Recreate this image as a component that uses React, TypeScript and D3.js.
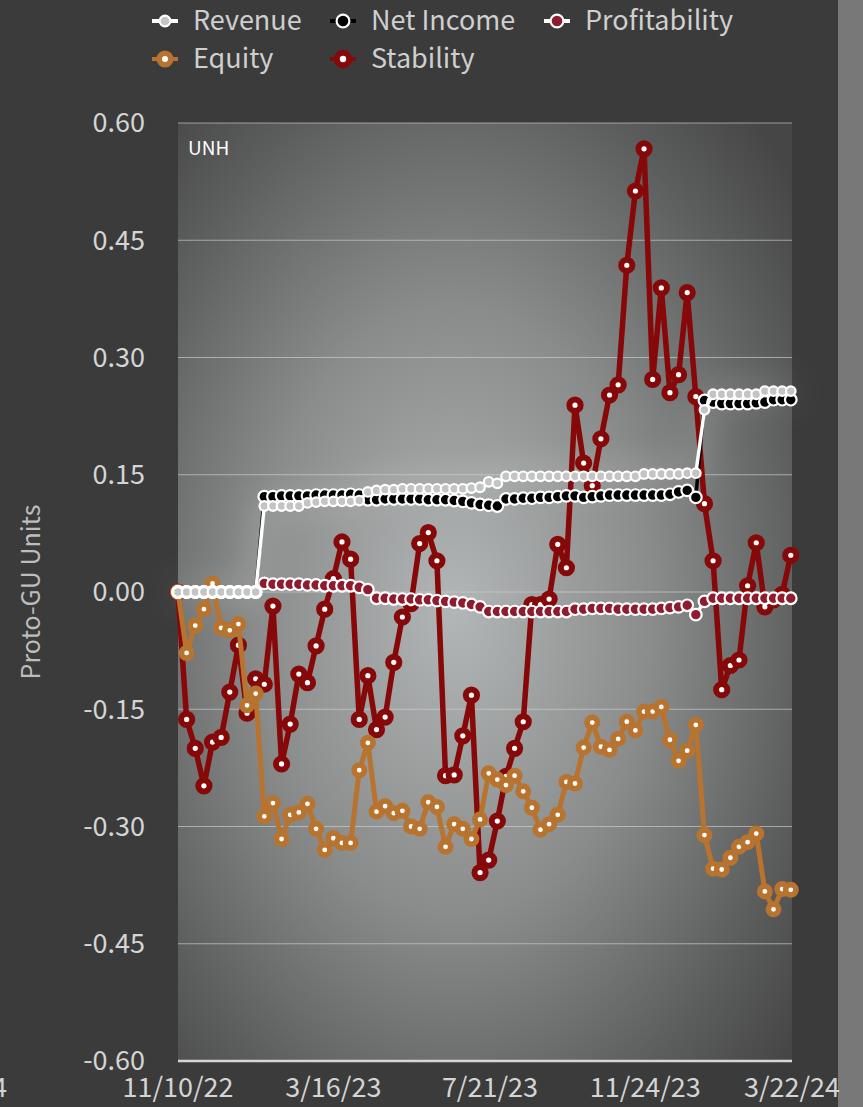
import * as d3 from "d3";

// weekly observations, 11/10/22 .. 3/21/24
const startDate = new Date(2022, 10, 10);
const endDate = new Date(2024, 2, 22);
const weekCount = 72;

const xTickDates = [
  new Date(2022, 10, 10),
  new Date(2023, 2, 16),
  new Date(2023, 6, 21),
  new Date(2023, 10, 24),
  new Date(2024, 2, 22),
];
const yTicks = [-0.6, -0.45, -0.3, -0.15, 0, 0.15, 0.3, 0.45, 0.6];

const revenue = [
  0, 0, 0, 0, 0, 0, 0, 0, 0, 0,
  0.11, 0.11, 0.11, 0.11, 0.11,
  0.114, 0.115, 0.116, 0.116, 0.116, 0.116, 0.117,
  0.128, 0.13, 0.131, 0.131, 0.132, 0.132, 0.132, 0.132, 0.132, 0.132, 0.132, 0.132, 0.133,
  0.134, 0.141, 0.139,
  0.148, 0.148, 0.148, 0.148, 0.148, 0.148, 0.148, 0.148, 0.148, 0.148, 0.148, 0.148, 0.148, 0.148, 0.148, 0.148,
  0.151, 0.151, 0.151, 0.151, 0.151, 0.152, 0.152,
  0.233,
  0.253, 0.253, 0.253, 0.253, 0.253, 0.253,
  0.257, 0.257, 0.257, 0.257,
];

const netIncome = [
  0, 0, 0, 0, 0, 0, 0, 0, 0, 0,
  0.122, 0.122, 0.123, 0.123, 0.123, 0.123, 0.124, 0.124, 0.124, 0.124, 0.125, 0.124,
  0.118, 0.118, 0.119, 0.119, 0.119, 0.119, 0.119, 0.118, 0.118, 0.118, 0.117, 0.116, 0.114,
  0.112, 0.111, 0.11,
  0.119, 0.119, 0.12, 0.12, 0.121, 0.121, 0.122, 0.123, 0.123, 0.121, 0.122, 0.123,
  0.124, 0.124, 0.124, 0.124, 0.124, 0.124, 0.124, 0.125, 0.128, 0.13, 0.121,
  0.245, 0.243, 0.241, 0.241, 0.241, 0.241, 0.242, 0.243, 0.246, 0.246, 0.246,
];

const profitability = [
  0, 0, 0, 0, 0, 0, 0, 0, 0, 0,
  0.011, 0.01, 0.01, 0.01, 0.01, 0.009, 0.009, 0.008, 0.008, 0.008, 0.008, 0.006, 0.003,
  -0.008, -0.008, -0.009, -0.009, -0.009, -0.01, -0.01, -0.011, -0.012, -0.013, -0.014, -0.016, -0.019,
  -0.025, -0.025, -0.025, -0.025, -0.025, -0.025, -0.025, -0.025, -0.025, -0.025,
  -0.022, -0.022, -0.021, -0.021, -0.021, -0.022, -0.022, -0.022, -0.022, -0.022, -0.021, -0.02, -0.019, -0.017,
  -0.029,
  -0.012,
  -0.008, -0.008, -0.008, -0.008, -0.008, -0.008, -0.008, -0.008, -0.008, -0.008,
];

const equity = [
  0, -0.078, -0.043, -0.022, 0.011, -0.046, -0.049, -0.041, -0.145, -0.13,
  -0.287, -0.27, -0.316, -0.285, -0.282, -0.271, -0.303, -0.33, -0.315, -0.321,
  -0.321, -0.228, -0.193, -0.281, -0.274, -0.283, -0.28, -0.3, -0.303, -0.269,
  -0.275, -0.326, -0.297, -0.303, -0.316, -0.291, -0.232, -0.24, -0.247, -0.235,
  -0.255, -0.276, -0.304, -0.297, -0.285, -0.243, -0.245, -0.199, -0.167, -0.198,
  -0.202, -0.188, -0.166, -0.177, -0.153, -0.153, -0.147, -0.189, -0.216, -0.203,
  -0.17, -0.311, -0.354, -0.355, -0.34, -0.326, -0.32, -0.309, -0.383, -0.406,
  -0.38, -0.381,
];

const stability = [
  0, -0.163, -0.2, -0.248, -0.192, -0.186, -0.128, -0.068, -0.155, -0.111,
  -0.118, -0.018, -0.22, -0.169, -0.105, -0.116, -0.069, -0.022, 0.017, 0.064,
  0.042, -0.163, -0.107, -0.176, -0.16, -0.09, -0.032, -0.015, 0.062, 0.076,
  0.04, -0.235, -0.234, -0.184, -0.132, -0.359, -0.343, -0.293, -0.236, -0.2,
  -0.166, -0.016, -0.016, -0.009, 0.061, 0.031, 0.239, 0.165, 0.136, 0.196,
  0.252, 0.265, 0.418, 0.513, 0.567, 0.272, 0.389, 0.255, 0.278, 0.383,
  0.25, 0.113, 0.04, -0.125, -0.094, -0.087, 0.008, 0.063, -0.019, -0.01,
  -0.003, 0.047,
];

interface Series {
  name: string;
  values: number[];
  line: string;
  lineWidth: number;
  fill: string;
  stroke: string;
  r: number;
  markerStroke: number;
}

const seriesList: Series[] = [
  { name: "Revenue", values: revenue, line: "#ffffff", lineWidth: 3.5, fill: "#c4c4c4", stroke: "#ffffff", r: 4.8, markerStroke: 2.2 },
  { name: "Net Income", values: netIncome, line: "#000000", lineWidth: 3.5, fill: "#000000", stroke: "#ffffff", r: 5.8, markerStroke: 2.2 },
  { name: "Profitability", values: profitability, line: "#ffffff", lineWidth: 3.5, fill: "#8e1b2e", stroke: "#ffffff", r: 5.8, markerStroke: 2.2 },
  { name: "Equity", values: equity, line: "#b8732f", lineWidth: 5, fill: "#ffffff", stroke: "#b8732f", r: 5.2, markerStroke: 5.6 },
  { name: "Stability", values: stability, line: "#870808", lineWidth: 5.5, fill: "#ffffff", stroke: "#870808", r: 5.6, markerStroke: 6 },
];

const W = 863;
const H = 1107;
const left = 178;
const right = 792;
const top = 123;
const bottom = 1061;
const font = "'Noto Sans CJK KR', 'Noto Sans', sans-serif";

export default function App() {
  const dates = d3.range(weekCount).map(i => d3.timeDay.offset(startDate, i * 7));

  const x = d3.scaleTime().domain([startDate, endDate]).range([left, right]);
  const y = d3.scaleLinear().domain([-0.6, 0.6]).range([bottom, top]);
  const fmt = d3.timeFormat("%-m/%-d/%y");

  const line = d3.line<number>()
    .x((_, i) => x(dates[i]))
    .y(d => y(d));

  // drawn last-to-first so Revenue sits on top
  const drawOrder = [...seriesList].reverse();

  const legendRows = [
    [seriesList[0], seriesList[1], seriesList[2]],
    [seriesList[3], seriesList[4]],
  ];
  const legendX = [165, 343, 557];
  const legendY = [21, 59];

  return (
    <svg width={W} height={H} style={{ position: "absolute", left: 0, top: 0, display: "block" }} fontFamily={font}>
      <defs>
        <radialGradient id="plotBg" cx="0.45" cy="0.52" r="0.72" fx="0.45" fy="0.52">
          <stop offset="0" stopColor="#b3b6b6" />
          <stop offset="0.45" stopColor="#8a8c8c" />
          <stop offset="0.8" stopColor="#5c5d5d" />
          <stop offset="1" stopColor="#464646" />
        </radialGradient>
        <filter id="glow" x="-20%" y="-50%" width="140%" height="200%">
          <feGaussianBlur stdDeviation="16" />
        </filter>
      </defs>

      <rect x={0} y={0} width={W} height={H} fill="#3b3b3b" />
      <rect x={838} y={0} width={W - 838} height={H} fill="#787878" />
      <rect x={left} y={top} width={right - left} height={bottom - top} fill="url(#plotBg)" />

      {/* grid */}
      {yTicks.filter(t => t > -0.6).map(t => (
        <line key={t} x1={left} x2={right} y1={y(t)} y2={y(t)} stroke="#d0d0d0" strokeOpacity={0.65} strokeWidth={1} />
      ))}
      <line x1={left} x2={right} y1={bottom} y2={bottom} stroke="#d6d6d6" strokeWidth={2.5} />

      {/* y labels */}
      {yTicks.map(t => (
        <text key={t} x={145} y={y(t)} dy="0.35em" textAnchor="end" fill="#d4d4d4" fontSize={27}>
          {t.toFixed(2)}
        </text>
      ))}
      <text transform={`translate(40,${(top + bottom) / 2}) rotate(-90)`} textAnchor="middle" fill="#bdbdbd" fontSize={25}>
        Proto-GU Units
      </text>

      {/* x labels */}
      {xTickDates.map((d, i) => (
        <text key={i} x={x(d)} y={1097} textAnchor="middle" fill="#d4d4d4" fontSize={27}>
          {fmt(d)}
        </text>
      ))}
      <text x={7} y={1097} textAnchor="end" fill="#d4d4d4" fontSize={27}>7/7/24</text>

      <text x={188} y={155} fill="#ffffff" fontSize={19}>UNH</text>

      {/* soft glow behind revenue */}
      <path d={line(revenue) ?? ""} fill="none" stroke="#ffffff" strokeWidth={14} strokeOpacity={0.2} filter="url(#glow)" />

      {drawOrder.map(s => (
        <g key={s.name}>
          <path d={line(s.values) ?? ""} fill="none" stroke={s.line} strokeWidth={s.lineWidth} strokeLinejoin="round" />
          {s.values.map((v, i) => (
            <circle key={i} cx={x(dates[i])} cy={y(v)} r={s.r} fill={s.fill} stroke={s.stroke} strokeWidth={s.markerStroke} />
          ))}
        </g>
      ))}

      {/* legend */}
      {legendRows.map((row, ri) =>
        row.map((s, ci) => (
          <g key={s.name} transform={`translate(${legendX[ci]},${legendY[ri]})`}>
            <line x1={-13} x2={13} y1={0} y2={0} stroke={s.line} strokeWidth={4} />
            <circle r={s.r + 0.6} fill={s.fill} stroke={s.stroke} strokeWidth={s.markerStroke} />
            <text x={28} dy="0.35em" fill="#cfcfcf" fontSize={27}>{s.name}</text>
          </g>
        ))
      )}
    </svg>
  );
}
